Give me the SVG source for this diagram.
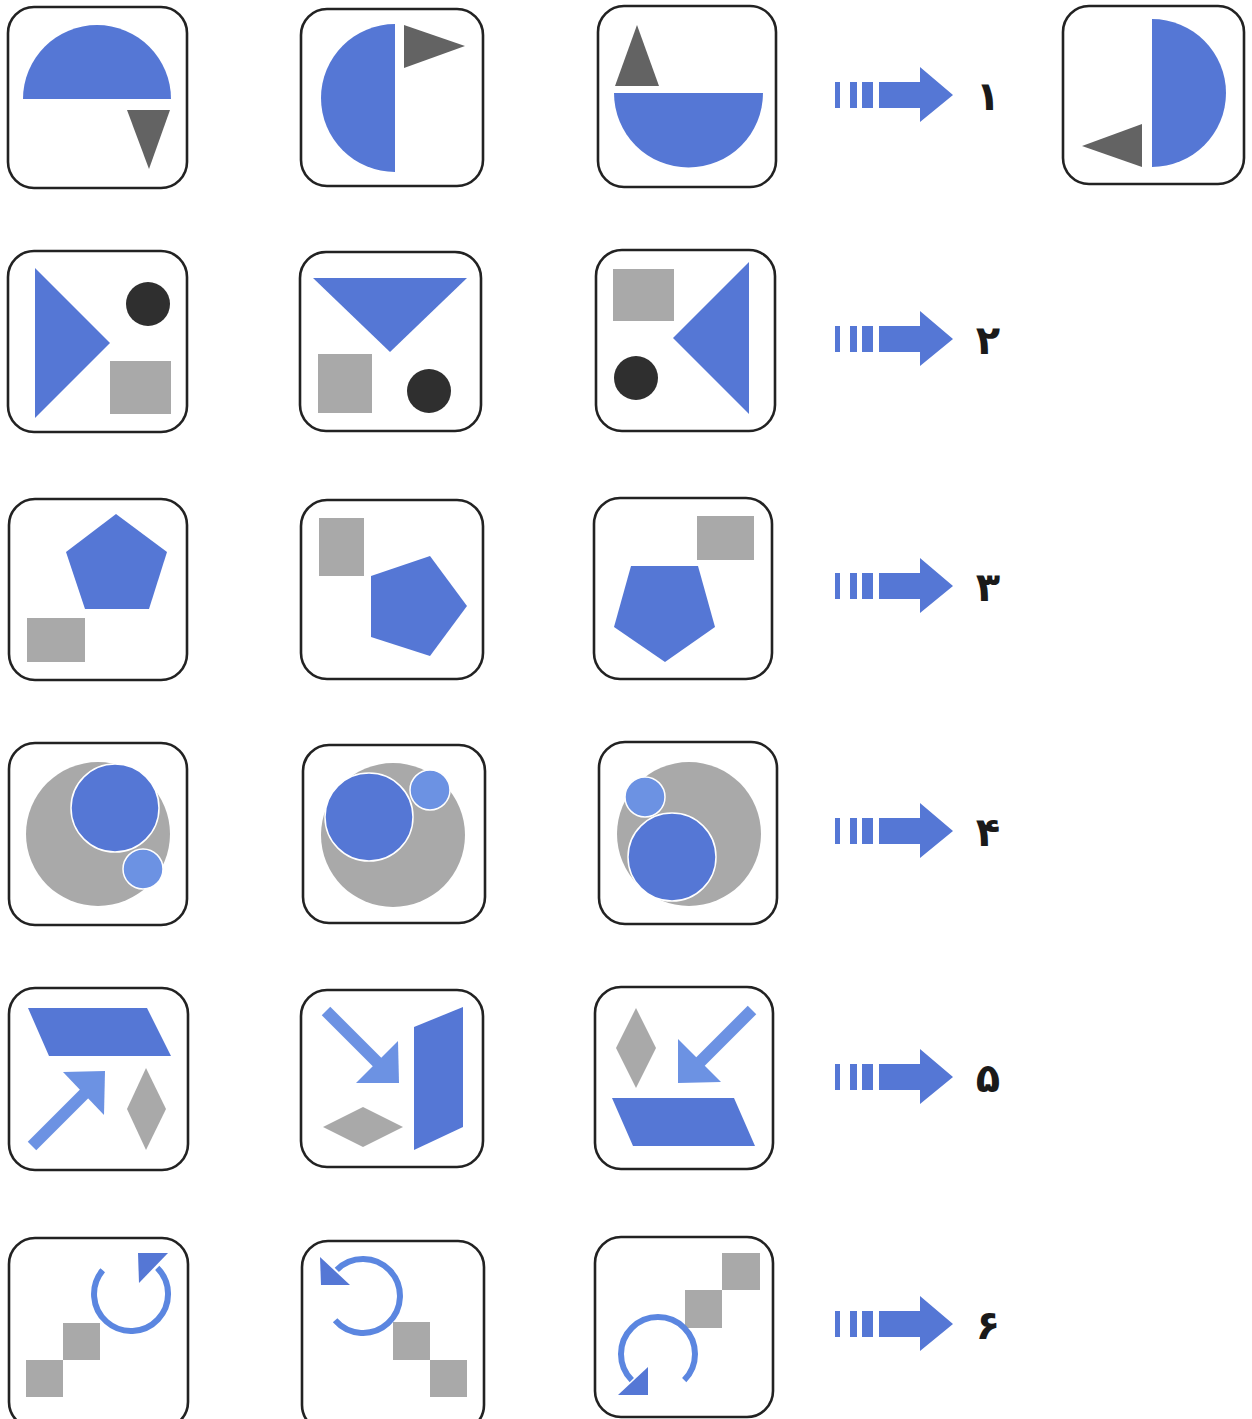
<svg xmlns="http://www.w3.org/2000/svg" width="1252" height="1419" viewBox="0 0 1252 1419">
<style>
.box{fill:#fff;stroke:#222;stroke-width:2.6}
.b{fill:#5577D5}
.lb{fill:#6C92E3}
.dg{fill:#636363}
.lg{fill:#A9A9A9}
.k{fill:#2F2F2F}
.ring{fill:none;stroke:#5B86E0;stroke-width:6}
.shaft{stroke:#6C92E3;stroke-width:12;fill:none}
.edge{stroke:#fff;stroke-width:1.5}
.num{font-family:"DejaVu Sans","Noto Sans",sans-serif;font-size:40px;font-weight:bold;fill:#1a1a1a;text-anchor:middle}
</style>
<defs>
<g id="arr" class="b">
<rect x="0" y="-13" width="5" height="26"/>
<rect x="15" y="-13" width="7" height="26"/>
<rect x="27" y="-13" width="11" height="26"/>
<path d="M44,-13 H85 V-28 L118,0 L85,27 V13 H44 Z"/>
</g>
</defs>
<rect width="1252" height="1419" fill="#fff"/>

<g id="connectors">
<use href="#arr" x="835" y="95"/>
<use href="#arr" x="835" y="339"/>
<use href="#arr" x="835" y="586"/>
<use href="#arr" x="835" y="831"/>
<use href="#arr" x="835" y="1077"/>
<use href="#arr" x="835" y="1324"/>
</g>

<g id="labels">
<text class="num" x="988" y="110">۱</text>
<text class="num" x="988" y="354">۲</text>
<text class="num" x="988" y="601">۳</text>
<text class="num" x="988" y="846">۴</text>
<text class="num" x="988" y="1092">۵</text>
<text class="num" x="988" y="1339">۶</text>
</g>

<!-- Row 1 -->
<g id="r1c1">
<rect class="box" x="8" y="7" width="179" height="181" rx="26"/>
<path class="b" d="M23,99 A74,74 0 0 1 171,99 Z"/>
<polygon class="dg" points="127,110 170,110 149,169"/>
</g>
<g id="r1c2">
<rect class="box" x="301" y="9" width="182" height="177" rx="26"/>
<path class="b" d="M395,24 A74,74 0 0 0 395,172 Z"/>
<polygon class="dg" points="404,25 404,68 465,46"/>
</g>
<g id="r1c3">
<rect class="box" x="598" y="6" width="178" height="181" rx="26"/>
<polygon class="dg" points="615,86 659,86 637,25"/>
<path class="b" d="M614,93 A74.5,74.5 0 0 0 763,93 Z"/>
</g>
<g id="r1ans">
<rect class="box" x="1063" y="6" width="181" height="178" rx="26"/>
<path class="b" d="M1152,19 A74,74 0 0 1 1152,167 Z"/>
<polygon class="dg" points="1082,146 1142,124 1142,167"/>
</g>

<!-- Row 2 -->
<g id="r2c1">
<rect class="box" x="8" y="251" width="179" height="181" rx="26"/>
<polygon class="b" points="35,268 35,418 110,343"/>
<circle class="k" cx="148" cy="304" r="22"/>
<rect class="lg" x="110" y="361" width="61" height="53"/>
</g>
<g id="r2c2">
<rect class="box" x="300" y="252" width="181" height="179" rx="26"/>
<polygon class="b" points="313,278 467,278 390,352"/>
<rect class="lg" x="318" y="354" width="54" height="59"/>
<circle class="k" cx="429" cy="391" r="22"/>
</g>
<g id="r2c3">
<rect class="box" x="596" y="250" width="179" height="181" rx="26"/>
<rect class="lg" x="613" y="269" width="61" height="52"/>
<polygon class="b" points="749,262 749,414 673,338"/>
<circle class="k" cx="636" cy="378" r="22"/>
</g>

<!-- Row 3 -->
<g id="r3c1">
<rect class="box" x="9" y="499" width="178" height="181" rx="26"/>
<polygon class="b" points="116,514 167,552 149,609 85,609 66,552"/>
<rect class="lg" x="27" y="618" width="58" height="44"/>
</g>
<g id="r3c2">
<rect class="box" x="301" y="500" width="182" height="179" rx="26"/>
<rect class="lg" x="319" y="518" width="45" height="58"/>
<polygon class="b" points="467,606 430,556 371,576 371,637 430,656"/>
</g>
<g id="r3c3">
<rect class="box" x="594" y="498" width="178" height="181" rx="26"/>
<rect class="lg" x="697" y="516" width="57" height="44"/>
<polygon class="b" points="631,566 698,566 715,627 665,662 614,627"/>
</g>

<!-- Row 4 -->
<g id="r4c1">
<rect class="box" x="9" y="743" width="178" height="182" rx="26"/>
<circle class="lg" cx="98" cy="834" r="72"/>
<circle class="b edge" cx="115" cy="808" r="44"/>
<circle class="lb edge" cx="143" cy="869" r="20"/>
</g>
<g id="r4c2">
<rect class="box" x="303" y="745" width="182" height="178" rx="26"/>
<circle class="lg" cx="393" cy="835" r="72"/>
<circle class="b edge" cx="369" cy="817" r="44"/>
<circle class="lb edge" cx="430" cy="790" r="20"/>
</g>
<g id="r4c3">
<rect class="box" x="599" y="742" width="178" height="182" rx="26"/>
<circle class="lg" cx="689" cy="834" r="72"/>
<circle class="lb edge" cx="645" cy="797" r="20"/>
<circle class="b edge" cx="672" cy="857" r="44"/>
</g>

<!-- Row 5 -->
<g id="r5c1">
<rect class="box" x="9" y="988" width="179" height="182" rx="26"/>
<polygon class="b" points="28,1008 147,1008 171,1056 49,1056"/>
<line class="shaft" x1="32" y1="1146" x2="90" y2="1088"/>
<polygon class="lb" points="63,1072 105,1071 104,1115"/>
<polygon class="lg" points="146,1068 166,1109 146,1150 127,1109"/>
</g>
<g id="r5c2">
<rect class="box" x="301" y="990" width="182" height="177" rx="26"/>
<line class="shaft" x1="326" y1="1011" x2="384" y2="1069"/>
<polygon class="lb" points="398,1041 399,1083 356,1083"/>
<polygon class="lg" points="323,1127 363,1107 403,1127 363,1147"/>
<polygon class="b" points="414,1027 463,1007 463,1127 414,1150"/>
</g>
<g id="r5c3">
<rect class="box" x="595" y="987" width="178" height="182" rx="26"/>
<polygon class="lg" points="636,1008 656,1048 636,1088 616,1048"/>
<line class="shaft" x1="752" y1="1010" x2="694" y2="1068"/>
<polygon class="lb" points="678,1039 678,1083 721,1082"/>
<polygon class="b" points="612,1098 734,1098 755,1146 633,1146"/>
</g>

<!-- Row 6 -->
<g id="r6c1">
<rect class="box" x="9" y="1238" width="179" height="190" rx="26"/>
<rect class="lg" x="26" y="1360" width="37" height="37"/>
<rect class="lg" x="63" y="1323" width="37" height="37"/>
<path class="ring" d="M102.7,1270.2 A37,37 0 1 0 157.2,1267.8"/>
<polygon class="b" points="138,1253 168,1253 139,1283"/>
</g>
<g id="r6c2">
<rect class="box" x="302" y="1241" width="182" height="190" rx="26"/>
<rect class="lg" x="393" y="1322" width="37" height="38"/>
<rect class="lg" x="430" y="1360" width="37" height="37"/>
<path class="ring" d="M335.1,1320.3 A37,37 0 1 0 336.8,1269.8"/>
<polygon class="b" points="320,1257 321,1285 350,1285"/>
</g>
<g id="r6c3">
<rect class="box" x="595" y="1237" width="178" height="180" rx="26"/>
<rect class="lg" x="722" y="1253" width="38" height="37"/>
<rect class="lg" x="685" y="1290" width="37" height="38"/>
<path class="ring" d="M684.2,1380.2 A37,37 0 1 0 631.8,1380.2"/>
<polygon class="b" points="618,1395 648,1395 648,1367"/>
</g>
</svg>
